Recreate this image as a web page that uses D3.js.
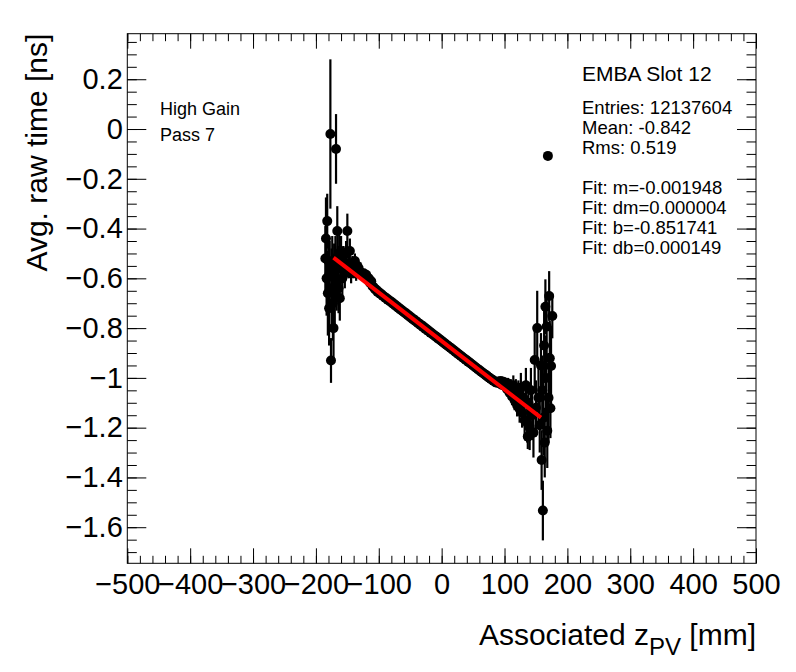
<!DOCTYPE html>
<html lang="en">
<head>
<meta charset="UTF-8">
<title>EMBA Slot 12 - avg raw time vs z_PV</title>
<script src="https://cdn.jsdelivr.net/npm/d3@7/dist/d3.min.js"></script>
<style>
    body { margin: 0; background: #fff; }
    text { font-family: "Liberation Sans", Arial, Helvetica, sans-serif; }
</style>
</head>
<body>
<script type="application/javascript">
    // profile points: bin centre [mm], mean raw time [ns], error [ns]
    // left edge
    const zLeft = [
        -185, -184, -183, -182, -181, -180, -179, -178, -177, -176,
        -175, -174, -173, -172, -171, -170, -169, -168, -167, -166,
        -165, -164, -163, -162, -161, -160, -158, -156, -154, -152,
        -150, -148, -146, -144, -142, -140, -138, -136, -134, -132, -130
    ];
    const tLeft = [
        -0.52, -0.44, -0.60, -0.37, -0.66, -0.53, -0.72, -0.58, -0.02, -0.93,
        -0.64, -0.55, -0.70, -0.80, -0.57, -0.66, -0.52, -0.08, -0.62, -0.41,
        -0.56, -0.64, -0.50, -0.68, -0.55, -0.49, -0.60, -0.53, -0.58, -0.50,
        -0.41, -0.55, -0.49, -0.58, -0.55, -0.57, -0.53, -0.58, -0.55, -0.56, -0.58
    ];
    const eLeft = [
        0.13, 0.165, 0.15, 0.11, 0.17, 0.10, 0.15, 0.13, 0.30, 0.09,
        0.16, 0.12, 0.15, 0.14, 0.11, 0.13, 0.09, 0.14, 0.11, 0.10,
        0.09, 0.10, 0.08, 0.09, 0.07, 0.06, 0.07, 0.06, 0.06, 0.05,
        0.07, 0.05, 0.05, 0.04, 0.04, 0.03, 0.03, 0.03, 0.03, 0.02, 0.02
    ];
    // central band
    const zMid = [
        -128, -126, -124, -122, -120, -118, -116, -114, -112, -110,
        -108, -106, -104, -102, -100, -98, -96, -94, -92, -90,
        -88, -86, -84, -82, -80, -78, -76, -74, -72, -70,
        -68, -66, -64, -62, -60, -58, -56, -54, -52, -50,
        -48, -46, -44, -42, -40, -38, -36, -34, -32, -30,
        -28, -26, -24, -22, -20, -18, -16, -14, -12, -10,
        -8, -6, -4, -2, 0, 2, 4, 6, 8, 10,
        12, 14, 16, 18, 20, 22, 24, 26, 28, 30,
        32, 34, 36, 38, 40, 42, 44, 46, 48, 50,
        52, 54, 56, 58, 60, 62, 64, 66, 68, 70,
        72, 74, 76, 78, 80, 82, 84, 86, 88
    ];
    const tMid = [
        -0.578, -0.588, -0.580, -0.594, -0.586, -0.602, -0.600, -0.618, -0.612, -0.632,
        -0.636, -0.644, -0.646, -0.655, -0.655, -0.662, -0.663, -0.670, -0.672, -0.678,
        -0.679, -0.686, -0.687, -0.693, -0.694, -0.701, -0.702, -0.709, -0.710, -0.717,
        -0.718, -0.725, -0.726, -0.732, -0.734, -0.740, -0.741, -0.748, -0.749, -0.756,
        -0.757, -0.764, -0.765, -0.771, -0.773, -0.779, -0.781, -0.787, -0.788, -0.795,
        -0.796, -0.803, -0.804, -0.810, -0.812, -0.818, -0.820, -0.826, -0.828, -0.834,
        -0.835, -0.842, -0.843, -0.849, -0.851, -0.857, -0.859, -0.865, -0.867, -0.872,
        -0.875, -0.880, -0.882, -0.888, -0.890, -0.896, -0.898, -0.904, -0.906, -0.911,
        -0.914, -0.919, -0.922, -0.927, -0.929, -0.935, -0.937, -0.942, -0.945, -0.950,
        -0.953, -0.958, -0.961, -0.966, -0.968, -0.974, -0.976, -0.981, -0.984, -0.989,
        -0.991, -0.997, -0.999, -1.004, -1.006, -1.011, -1.013, -1.018, -1.019
    ];
    const eMid = [
        0.020, 0.019, 0.018, 0.018, 0.017, 0.016, 0.016, 0.015, 0.015, 0.014,
        0.014, 0.013, 0.013, 0.012, 0.012, 0.012, 0.011, 0.011, 0.011, 0.011,
        0.010, 0.010, 0.010, 0.010, 0.010, 0.010, 0.010, 0.010, 0.010, 0.010,
        0.009, 0.009, 0.009, 0.009, 0.009, 0.009, 0.009, 0.009, 0.009, 0.009,
        0.008, 0.008, 0.008, 0.008, 0.008, 0.008, 0.008, 0.008, 0.008, 0.008,
        0.008, 0.008, 0.008, 0.008, 0.008, 0.008, 0.008, 0.008, 0.008, 0.008,
        0.008, 0.008, 0.008, 0.008, 0.008, 0.008, 0.008, 0.008, 0.008, 0.008,
        0.008, 0.008, 0.008, 0.008, 0.008, 0.008, 0.008, 0.008, 0.008, 0.008,
        0.009, 0.009, 0.009, 0.009, 0.009, 0.009, 0.009, 0.009, 0.009, 0.009,
        0.010, 0.010, 0.010, 0.010, 0.010, 0.010, 0.010, 0.010, 0.010, 0.010,
        0.011, 0.011, 0.011, 0.011, 0.011, 0.012, 0.012, 0.012, 0.012
    ];
    // right edge
    const zRight = [
        90, 92, 94, 96, 98, 100, 102, 104, 106, 108,
        110, 112, 114, 116, 118, 120, 122, 124, 126, 128,
        130, 132, 134, 136, 137, 138, 140, 142, 144, 146,
        148, 150, 152, 154, 156, 158, 159, 160, 161, 162,
        163, 164, 165, 166, 167, 168, 169, 170, 171, 172,
        173, 174, 176
    ];
    const tRight = [
        -1.015, -1.022, -1.012, -1.028, -1.016, -1.032, -1.020, -1.045, -1.025, -1.060,
        -1.035, -1.075, -1.030, -1.090, -1.050, -1.110, -1.060, -1.125, -1.040, -1.140,
        -1.080, -1.170, -1.030, -1.180, -1.236, -1.100, -1.200, -1.050, -1.150, -1.220,
        -0.928, -1.120, -0.800, -1.080, -1.190, -0.950, -1.330, -1.050, -1.533, -1.160,
        -0.870, -1.260, -0.714, -1.000, -0.794, -1.212, -0.108, -1.080, -0.671, -0.921,
        -1.122, -0.952, -0.751
    ];
    const eRight = [
        0.012, 0.012, 0.014, 0.015, 0.016, 0.018, 0.020, 0.022, 0.025, 0.028,
        0.030, 0.035, 0.040, 0.040, 0.045, 0.045, 0.050, 0.055, 0.060, 0.060,
        0.065, 0.070, 0.070, 0.080, 0.050, 0.080, 0.090, 0.090, 0.100, 0.100,
        0.120, 0.110, 0.150, 0.120, 0.110, 0.130, 0.120, 0.140, 0.120, 0.150,
        0.150, 0.140, 0.110, 0.170, 0.140, 0.150, 0.004, 0.180, 0.100, 0.150,
        0.120, 0.160, 0.090
    ];

    // linear fit results (from the stats box)
    const fitM = -0.001948, fitB = -0.851741;
    const fitRange = [-172, 158];

    const xMajor = [-500, -400, -300, -200, -100, 0, 100, 200, 300, 400, 500];
    const yMajor = [0.2, 0, -0.2, -0.4, -0.6, -0.8, -1, -1.2, -1.4, -1.6];

    const infoLines = ['High Gain', 'Pass 7'];
    const statTitle = 'EMBA Slot 12';
    const statLines = ['Entries: 12137604', 'Mean: -0.842', 'Rms: 0.519', '',
        'Fit: m=-0.001948', 'Fit: dm=0.000004', 'Fit: b=-0.851741', 'Fit: db=0.000149'];

    const w = 796, h = 672;
    const fL = 127.3, fR = 756, fT = 33.7, fB = 563.3;

    const svg = d3.select('body')
        .append('svg')
        .attr('width', w)
        .attr('height', h);

    const x = d3.scaleLinear().domain([-500, 500]).range([fL, fR]);
    const y = d3.scaleLinear().domain([-1.745, 0.383]).range([fB, fT]);

    const xMinor = d3.range(-25, 26).map(i => i * 20);
    const yMinor = d3.range(-34, 8).map(i => +(i * 0.05).toFixed(2));
    const fmtY = d3.format('~g');

    // axes: ticks on all four sides, pointing inwards
    function ticks(axis, tx, ty) {
        const g = svg.append('g')
            .attr('transform', `translate(${tx},${ty})`)
            .call(axis)
            .attr('font-size', 29)
            .attr('font-family', '"Liberation Sans", Arial, sans-serif');
        g.select('.domain').remove();
        return g;
    }
    ticks(d3.axisBottom(x).tickValues(xMajor).tickSize(-15).tickPadding(10).tickFormat(d3.format('d')), 0, fB);
    ticks(d3.axisBottom(x).tickValues(xMinor).tickSize(-7.5).tickFormat(''), 0, fB);
    ticks(d3.axisTop(x).tickValues(xMajor).tickSize(-15).tickFormat(''), 0, fT);
    ticks(d3.axisTop(x).tickValues(xMinor).tickSize(-7.5).tickFormat(''), 0, fT);
    ticks(d3.axisLeft(y).tickValues(yMajor).tickSize(-19).tickPadding(4.5).tickFormat(fmtY), fL, 0);
    ticks(d3.axisLeft(y).tickValues(yMinor).tickSize(-9.5).tickFormat(''), fL, 0);
    ticks(d3.axisRight(y).tickValues(yMajor).tickSize(-19).tickFormat(''), fR, 0);
    ticks(d3.axisRight(y).tickValues(yMinor).tickSize(-9.5).tickFormat(''), fR, 0);

    svg.append('rect')
        .attr('x', fL).attr('y', fT)
        .attr('width', fR - fL).attr('height', fB - fT)
        .attr('fill', 'none').attr('stroke', '#000').attr('stroke-width', 1);

    // data points
    const zPV = zLeft.concat(zMid, zRight);
    const meanTime = tLeft.concat(tMid, tRight);
    const errTime = eLeft.concat(eMid, eRight);
    const points = zPV.map((z, i) => ({z: z, t: meanTime[i], e: errTime[i]}));
    const plot = svg.append('g');

    plot.selectAll('line.err')
        .data(points)
        .enter()
        .append('line')
        .attr('class', 'err')
        .attr('x1', d => x(d.z))
        .attr('x2', d => x(d.z))
        .attr('y1', d => y(d.t + d.e))
        .attr('y2', d => y(d.t - d.e))
        .attr('stroke', '#000')
        .attr('stroke-width', 2.2);

    plot.selectAll('circle')
        .data(points)
        .enter()
        .append('circle')
        .attr('cx', d => x(d.z))
        .attr('cy', d => y(d.t))
        .attr('r', 5)
        .attr('fill', '#000');

    // fit line
    svg.append('line')
        .attr('x1', x(fitRange[0]))
        .attr('y1', y(fitM * fitRange[0] + fitB))
        .attr('x2', x(fitRange[1]))
        .attr('y2', y(fitM * fitRange[1] + fitB))
        .attr('stroke', '#ff0000')
        .attr('stroke-width', 4);

    // axis titles
    const xt = svg.append('text')
        .attr('x', fR)
        .attr('y', 645)
        .attr('text-anchor', 'end')
        .attr('font-size', 30)
        .style('white-space', 'pre');
    xt.append('tspan').text('Associated z');
    xt.append('tspan').attr('font-size', 24).attr('dy', 10).text('PV');
    xt.append('tspan').attr('dy', -10).text(' [mm]');

    svg.append('text')
        .attr('transform', `translate(47,${fT}) rotate(-90)`)
        .attr('text-anchor', 'end')
        .attr('font-size', 30)
        .text('Avg. raw time [ns]');

    // labels
    svg.selectAll('text.info')
        .data(infoLines)
        .enter()
        .append('text')
        .attr('class', 'info')
        .attr('x', 160)
        .attr('y', (d, i) => 115 + i * 26)
        .attr('font-size', 18)
        .text(d => d);

    svg.append('text')
        .attr('x', 582)
        .attr('y', 80.5)
        .attr('font-size', 21)
        .text(statTitle);

    svg.selectAll('text.stat')
        .data(statLines)
        .enter()
        .append('text')
        .attr('class', 'stat')
        .attr('x', 582)
        .attr('y', (d, i) => 114 + i * 20)
        .attr('font-size', 18.5)
        .text(d => d);
</script>
</body>
</html>
